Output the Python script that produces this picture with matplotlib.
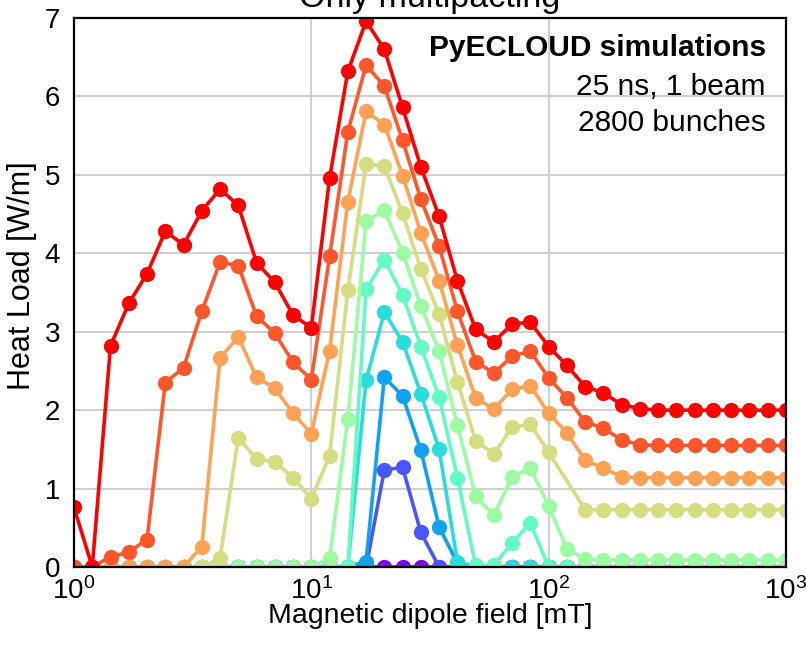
"""
Heat load vs dipole field - only multipacting (PyECLOUD scan)
"""

import matplotlib
matplotlib.use('Agg')
import matplotlib.pyplot as plt

nan = float('nan')

# Champ magnétique [mT] (grille log, 13 points par décade)
b_field = [1.0, 1.194, 1.425, 1.701, 2.031, 2.424, 2.894, 3.455, 4.125, 4.924,
           5.878, 7.017, 8.377, 10.0, 11.94, 14.25, 17.01, 20.31, 24.24, 28.94,
           34.55, 41.25, 49.24, 58.78, 70.17, 83.77, 100.0, 119.4, 142.5, 170.1,
           203.1, 242.4, 289.4, 345.5, 412.5, 492.4, 587.8, 701.7, 837.7, 1000.0]

# Heat load [W/m], une courbe par couleur (du violet au rouge)
hl_purple = [0, 0, 0, 0, 0, 0, 0, 0, 0, 0,
             0, 0, 0, 0, 0, 0, 0, 0, 0, 0,
             0, 0, 0, 0, 0, 0, 0, 0, 0, 0,
             0, 0, 0, 0, 0, 0, 0, 0, 0, 0]
hl_violet = [0, 0, 0, 0, 0, 0, 0, 0, 0, 0,
             0, 0, 0, 0, 0, 0, 0, 1.24, 1.27, 0.44,
             0, 0, 0, 0, 0, 0, 0, 0, 0, 0,
             0, 0, 0, 0, 0, 0, 0, 0, 0, 0]
hl_blue = [0, 0, 0, 0, 0, 0, 0, 0, 0, 0,
           0, 0, 0, 0, 0, 0, 0.07, 2.42, 2.18, 1.49,
           0.51, 0.05, 0, 0, 0, 0, 0, 0, 0, 0,
           0, 0, 0, 0, 0, 0, 0, 0, 0, 0]
hl_cyan = [0, 0, 0, 0, 0, 0, 0, 0, 0, 0,
           0, 0, 0, 0, 0, 0, 2.38, 3.25, 2.87, 2.21,
           1.50, 0.07, 0, 0, 0, 0, 0, 0, 0, 0,
           0, 0, 0, 0, 0, 0, 0, 0, 0, 0]
hl_aqua = [0, 0, 0, 0, 0, 0, 0, 0, 0, 0,
           0, 0, 0, 0, 0, 0, 3.54, 3.92, 3.47, 2.81,
           2.17, 1.14, 0.02, 0.02, 0.31, 0.56, 0, 0, 0, 0,
           0, 0, 0, 0, 0, 0, 0, 0, 0, 0]
hl_lgreen = [0, 0, 0, 0, 0, 0, 0, 0, 0, 0,
             0, 0, 0, 0, 0.11, 1.89, 4.41, 4.55, 4.01, 3.33,
             2.75, 1.81, 0.90, 0.66, 1.15, 1.26, 0.78, 0.23, 0.10, 0.09,
             0.09, 0.09, 0.09, 0.09, 0.09, 0.09, 0.09, 0.09, 0.09, 0.09]
hl_ygreen = [0, 0, 0, 0, 0, 0, 0, 0, 0.11, 1.65,
             1.38, 1.34, 1.14, 0.87, 1.42, 3.53, 5.14, 5.11, 4.51, 3.80,
             3.22, 2.36, 1.61, 1.44, 1.78, 1.82, 1.46, nan, 0.73, 0.73,
             0.73, 0.73, 0.73, 0.73, 0.73, 0.73, 0.73, 0.73, 0.73, 0.73]
hl_orange = [0, 0, 0, 0, 0, 0, 0, 0.26, 2.67, 2.93,
             2.42, 2.28, 1.96, 1.70, 2.76, 4.66, 5.81, 5.64, 4.99, 4.26,
             3.65, 2.83, 2.16, 2.01, 2.27, 2.31, 1.96, 1.71, 1.36, 1.26,
             1.15, 1.14, 1.14, 1.14, 1.14, 1.14, 1.14, 1.14, 1.14, 1.14]
hl_ored = [0, 0, 0.13, 0.19, 0.35, 2.35, 2.54, 3.26, 3.89, 3.84,
           3.20, 2.98, 2.61, 2.39, 3.96, 5.55, 6.40, 6.13, 5.44, 4.69,
           4.09, 3.26, 2.62, 2.47, 2.69, 2.75, 2.41, 2.16, 1.85, 1.77,
           1.62, 1.56, 1.55, 1.55, 1.55, 1.55, 1.55, 1.55, 1.55, 1.55]
hl_red = [0.76, 0, 2.82, 3.36, 3.74, 4.28, 4.11, 4.54, 4.82, 4.61,
          3.88, 3.63, 3.21, 3.05, 4.96, 6.32, 6.96, 6.60, 5.86, 5.10,
          4.47, 3.65, 3.03, 2.87, 3.10, 3.12, 2.81, 2.57, 2.30, 2.22,
          2.07, 2.02, 2.00, 2.00, 2.00, 2.00, 2.00, 2.00, 2.00, 2.00]

curves = [hl_purple, hl_violet, hl_blue, hl_cyan, hl_aqua,
          hl_lgreen, hl_ygreen, hl_orange, hl_ored, hl_red]

plt.rcParams['font.family'] = ['Liberation Sans', 'DejaVu Sans']

fig = plt.figure(figsize=(8.06, 6.45), dpi=100)
ax = fig.add_axes([74 / 806, 1 - 567 / 645, 712 / 806, 549 / 645])

cmap = plt.get_cmap('rainbow')
n = len(curves)
for i, hl in enumerate(curves):
    # points manquants : on les saute, la ligne relie les voisins
    pts = [(b, h) for b, h in zip(b_field, hl) if h == h]
    xs = [p[0] for p in pts]
    ys = [p[1] for p in pts]
    ax.plot(xs, ys, '-o', color=cmap(i / (n - 1)), lw=2.6, ms=11,
            markeredgewidth=0)

ax.set_xscale('log')
ax.set_xlim(1, 1000)
ax.set_ylim(0, 7)
ax.set_yticks(range(8))
ax.minorticks_off()
ax.grid(True, color='#cccccc', lw=1.3)
ax.set_axisbelow(True)
ax.tick_params(length=0, labelsize=20)
ax.tick_params(axis='y', pad=10)
ax.tick_params(axis='x', pad=7)
for sp in ax.spines.values():
    sp.set_color('black')
    sp.set_linewidth(1.6)
    sp.set_zorder(5)

ax.set_xlabel('Magnetic dipole field [mT]', fontsize=20.5, labelpad=-1)
ax.set_ylabel('Heat Load [W/m]', fontsize=22)
ax.yaxis.set_label_coords(-0.052, 0.53)

fig.text(430 / 806, 1 - 7 / 645, 'Only multipacting', ha='center',
         va='baseline', fontsize=24.5)

fig.text(766 / 806, 1 - 56 / 645, 'PyECLOUD simulations', ha='right',
         va='baseline', fontsize=21.5, fontweight='bold')
fig.text(766 / 806, 1 - 95 / 645, '25 ns, 1 beam', ha='right',
         va='baseline', fontsize=21.5)
fig.text(766 / 806, 1 - 131 / 645, '2800 bunches', ha='right',
         va='baseline', fontsize=21.5)

fig.savefig('out.png', dpi=100)
plt.close(fig)
